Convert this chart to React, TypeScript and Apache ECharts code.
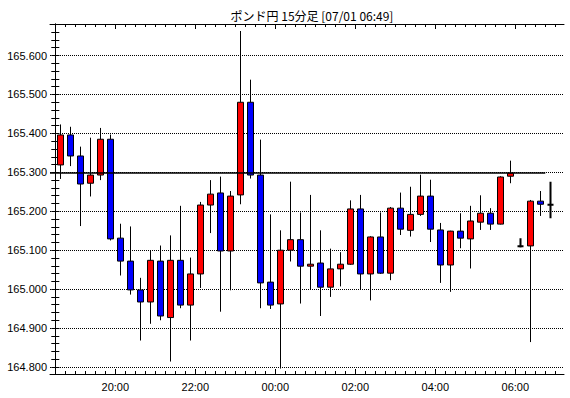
import React, { useEffect, useRef } from 'react';
import * as echarts from 'echarts';

const titleText = 'ポンド円 15分足 [07/01 06:49]';

const times = [
  '18:30', '18:45', '19:00', '19:15', '19:30', '19:45', '20:00', '20:15', '20:30', '20:45',
  '21:00', '21:15', '21:30', '21:45', '22:00', '22:15', '22:30', '22:45', '23:00', '23:15',
  '23:30', '23:45', '00:00', '00:15', '00:30', '00:45', '01:00', '01:15', '01:30', '01:45',
  '02:00', '02:15', '02:30', '02:45', '03:00', '03:15', '03:30', '03:45', '04:00', '04:15',
  '04:30', '04:45', '05:00', '05:15', '05:30', '05:45', '06:00', '06:15', '06:30', '06:45',
];

const opens = [
  165.319, 165.396, 165.342, 165.272, 165.293, 165.385, 165.131, 165.072, 164.998, 164.967,
  165.072, 164.927, 165.074, 164.959, 165.039, 165.216, 165.247, 165.098, 165.242, 165.480,
  165.293, 165.018, 164.962, 165.100, 165.127, 165.059, 165.067, 165.005, 165.052, 165.064,
  165.206, 165.039, 165.134, 165.041, 165.208, 165.151, 165.192, 165.239, 165.152, 165.062,
  165.149, 165.129, 165.172, 165.195, 165.167, 165.290, 165.110, 165.111, 165.226, 165.217,
];
const closes = [
  165.396, 165.342, 165.270, 165.293, 165.385, 165.129, 165.072, 164.998, 164.967, 165.074,
  164.931, 165.074, 164.959, 165.039, 165.216, 165.244, 165.098, 165.239, 165.480, 165.293,
  165.016, 164.959, 165.100, 165.127, 165.059, 165.064, 165.005, 165.052, 165.064, 165.206,
  165.039, 165.134, 165.041, 165.208, 165.154, 165.192, 165.239, 165.154, 165.062, 165.149,
  165.131, 165.175, 165.195, 165.167, 165.288, 165.298, 165.110, 165.226, 165.218, 165.217,
];
const lows = [
  165.283, 165.316, 165.162, 165.238, 165.280, 165.125, 165.035, 164.986, 164.868, 164.911,
  164.920, 164.814, 164.951, 164.868, 165.003, 165.144, 164.942, 164.997, 165.218, 165.284,
  164.951, 164.949, 164.796, 165.071, 164.963, 164.998, 164.931, 164.980, 165.007, 165.062,
  164.998, 164.971, 165.039, 165.023, 165.139, 165.135, 165.188, 165.121, 165.016, 164.993,
  165.105, 165.053, 165.152, 165.152, 165.166, 165.272, 165.107, 164.864, 165.188, 165.182,
];
const highs = [
  165.423, 165.417, 165.366, 165.389, 165.414, 165.397, 165.168, 165.161, 165.029, 165.100,
  165.112, 165.138, 165.214, 165.081, 165.224, 165.280, 165.289, 165.252, 165.663, 165.538,
  165.384, 165.192, 165.151, 165.276, 165.197, 165.242, 165.151, 165.104, 165.095, 165.228,
  165.242, 165.136, 165.197, 165.211, 165.248, 165.263, 165.294, 165.281, 165.170, 165.150,
  165.195, 165.214, 165.241, 165.208, 165.290, 165.330, 165.131, 165.229, 165.252, 165.276,
];

const majorTimes = ['20:00', '22:00', '00:00', '02:00', '04:00', '06:00'];
const yLabelValues = [164.8, 164.9, 165.0, 165.1, 165.2, 165.3, 165.4, 165.5, 165.6];
const yMinorValues = [
  164.78, 164.8, 164.82, 164.84, 164.86, 164.88, 164.9, 164.92, 164.94, 164.96, 164.98,
  165.0, 165.02, 165.04, 165.06, 165.08, 165.1, 165.12, 165.14, 165.16, 165.18,
  165.2, 165.22, 165.24, 165.26, 165.28, 165.3, 165.32, 165.34, 165.36, 165.38,
  165.4, 165.42, 165.44, 165.46, 165.48, 165.5, 165.52, 165.54, 165.56, 165.58,
  165.6, 165.62, 165.64, 165.66, 165.68,
];
const refLevel = 165.3;
const refLineEnd = '06:45';

const START_MIN = 18 * 60 + 30;
const BAR_MIN = 15;
function timePos(t: string): number {
  const [h, m] = t.split(':').map(Number);
  return (h * 60 + m - START_MIN + 1440) % 1440;
}

const X_MIN = -7.95;
const X_MAX = 763.05;
const Y_MIN = 164.782;
const Y_MAX = 165.681;

const FONT = 'Liberation Sans, Arial, sans-serif';

export default function App() {
  const ref = useRef<HTMLDivElement>(null);
  useEffect(() => {
    if (!ref.current) return;
    const chart = echarts.init(ref.current, undefined, { renderer: 'svg' });

    const data = times.map((t, i) => {
      const item: any = { value: [timePos(t) + BAR_MIN / 2, opens[i], closes[i], lows[i], highs[i]] };
      if (opens[i] === closes[i]) {
        item.itemStyle = { borderColor: '#000', borderColor0: '#000', borderWidth: 2 };
      }
      return item;
    });

    const majorPos = majorTimes.map(timePos);
    const labelMap: Record<string, string> = {};
    majorTimes.forEach((t) => { labelMap[String(timePos(t))] = t; });
    const minorPos = times.map(timePos).concat([timePos(times[times.length - 1]) + BAR_MIN]);

    const gridRect = { left: 50, top: 24, width: 514, height: 350 };
    const axisLine = { show: true, lineStyle: { color: '#000', width: 1 } };

    chart.setOption({
      animation: false,
      backgroundColor: '#fff',
      title: {
        text: titleText,
        left: 307,
        textAlign: 'center',
        top: 4,
        textStyle: { fontSize: 12, fontWeight: 'normal', color: '#000', fontFamily: 'Noto Sans CJK JP' },
      },
      grid: [
        { ...gridRect, containLabel: false },
        { ...gridRect, containLabel: false },
      ],
      xAxis: [
        {
          type: 'value', gridIndex: 0, position: 'bottom', min: X_MIN, max: X_MAX,
          axisLine,
          axisTick: { show: true, inside: true, length: 5, customValues: majorPos, lineStyle: { color: '#000' } },
          axisLabel: {
            show: true, customValues: majorPos, margin: 7, color: '#000', fontSize: 11, fontFamily: FONT,
            formatter: (v: number) => labelMap[String(v)] ?? '',
          },
          splitLine: { show: false },
        },
        {
          type: 'value', gridIndex: 0, position: 'top', min: X_MIN, max: X_MAX,
          axisLine,
          axisTick: { show: true, inside: true, length: 5, customValues: majorPos, lineStyle: { color: '#000' } },
          axisLabel: { show: false },
          splitLine: { show: false },
        },
        {
          type: 'value', gridIndex: 1, position: 'bottom', min: X_MIN, max: X_MAX,
          axisLine: { show: false },
          axisTick: { show: true, inside: true, length: 3, customValues: minorPos, lineStyle: { color: '#000' } },
          axisLabel: { show: false },
          splitLine: { show: false },
        },
        {
          type: 'value', gridIndex: 1, position: 'top', min: X_MIN, max: X_MAX,
          axisLine: { show: false },
          axisTick: { show: true, inside: true, length: 3, customValues: minorPos, lineStyle: { color: '#000' } },
          axisLabel: { show: false },
          splitLine: { show: false },
        },
      ],
      yAxis: [
        {
          type: 'value', gridIndex: 0, position: 'left', min: Y_MIN, max: Y_MAX,
          axisLine,
          axisTick: { show: true, inside: true, length: 4, customValues: yLabelValues, lineStyle: { color: '#000' } },
          axisLabel: {
            show: true, customValues: yLabelValues, margin: 3, color: '#000', fontSize: 11, fontFamily: FONT,
            formatter: (v: number) => v.toFixed(3),
          },
          splitLine: { show: true, lineStyle: { color: '#000', type: [1, 1], width: 1 } },
        },
        {
          type: 'value', gridIndex: 0, position: 'right', min: Y_MIN, max: Y_MAX,
          axisLine,
          axisTick: { show: true, inside: true, length: 4, customValues: yMinorValues, lineStyle: { color: '#000' } },
          axisLabel: { show: false },
          splitLine: { show: false },
        },
        {
          type: 'value', gridIndex: 1, position: 'left', min: Y_MIN, max: Y_MAX,
          axisLine: { show: false },
          axisTick: { show: true, inside: true, length: 4, customValues: yMinorValues, lineStyle: { color: '#000' } },
          axisLabel: { show: false },
          splitLine: { show: false },
        },
      ],
      series: [
        {
          type: 'candlestick',
          xAxisIndex: 0,
          yAxisIndex: 0,
          encode: { x: 0, y: [1, 2, 3, 4] },
          barWidth: 6,
          itemStyle: {
            color: '#ff0000',
            color0: '#0000ff',
            borderColor: '#000',
            borderColor0: '#000',
            borderColorDoji: '#000',
            borderWidth: 1,
          },
          data,
          markLine: {
            silent: true,
            symbol: ['none', 'none'],
            label: { show: false },
            lineStyle: { color: '#000', type: 'solid', width: 1.5 },
            data: [[{ coord: [X_MIN, refLevel] }, { coord: [timePos(refLineEnd), refLevel] }]],
          },
        },
      ],
    });
    return () => chart.dispose();
  }, []);

  return (
    <div
      ref={ref}
      style={{ position: 'absolute', left: 0, top: 0, width: 570, height: 398, background: '#fff' }}
    />
  );
}
